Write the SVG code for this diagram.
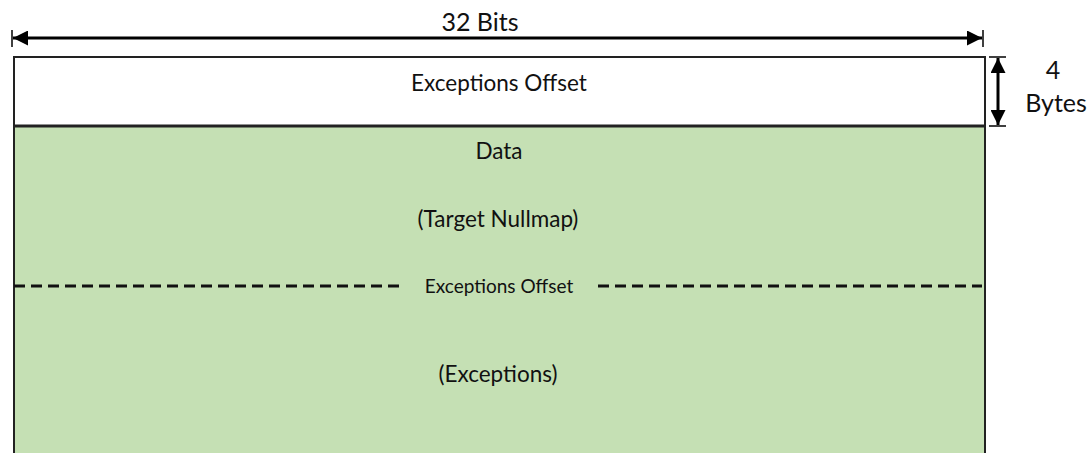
<svg xmlns="http://www.w3.org/2000/svg" width="1089" height="453" viewBox="0 0 1089 453">
  <defs>
    <marker id="arrow" viewBox="0 0 10 10" refX="10" refY="5" markerWidth="5" markerHeight="5" orient="auto-start-reverse" markerUnits="strokeWidth">
      <path d="M0,0 L10,5 L0,10 Z" fill="#000"/>
    </marker>
  </defs>
  <style>
    text { font-family: Lato, "Open Sans", "Liberation Sans", sans-serif; fill: #111; text-anchor: middle; }
    .lbl { font-size: 22.5px; }
    .big { font-size: 25px; }
    .small { font-size: 19px; }
    .dim { stroke: #000; stroke-width: 3; fill: none; }
    .tick { stroke: #000; stroke-width: 1.5; }
  </style>

  <!-- record layout -->
  <g id="header">
    <rect x="14" y="57" width="971" height="69" fill="#fff" stroke="#222" stroke-width="2"/>
    <text class="lbl" x="499" y="91">Exceptions Offset</text>
  </g>
  <g id="data">
    <path d="M14,126 V460 H985 V126 Z" fill="#C5E0B4" stroke="#222" stroke-width="2"/>
    <line x1="14" y1="126" x2="985" y2="126" stroke="#222" stroke-width="3"/>
    <text class="lbl" x="499" y="159">Data</text>
    <text class="lbl" x="498" y="227">(Target Nullmap)</text>
    <line x1="14" y1="286" x2="400" y2="286" stroke="#111" stroke-width="3" stroke-dasharray="11,6"/>
    <line x1="598" y1="286" x2="982" y2="286" stroke="#111" stroke-width="3" stroke-dasharray="11,6"/>
    <text class="small" x="499" y="293">Exceptions Offset</text>
    <text class="lbl" x="498" y="382">(Exceptions)</text>
  </g>

  <!-- dimension markers -->
  <g id="connectors">
    <line class="tick" x1="12" y1="30" x2="12" y2="47"/>
    <line class="tick" x1="983" y1="30" x2="983" y2="47"/>
    <line class="dim" x1="13" y1="38" x2="982" y2="38" marker-start="url(#arrow)" marker-end="url(#arrow)"/>
    <line class="tick" x1="989" y1="57" x2="1006" y2="57"/>
    <line class="tick" x1="989" y1="126" x2="1006" y2="126"/>
    <line class="dim" x1="998" y1="58" x2="998" y2="125" marker-start="url(#arrow)" marker-end="url(#arrow)"/>
  </g>
  <g id="width-label">
    <text class="big" x="480" y="31">32 Bits</text>
  </g>
  <g id="height-label">
    <text class="big" x="1053" y="79">4</text>
    <text class="big" x="1056" y="112">Bytes</text>
  </g>
</svg>
